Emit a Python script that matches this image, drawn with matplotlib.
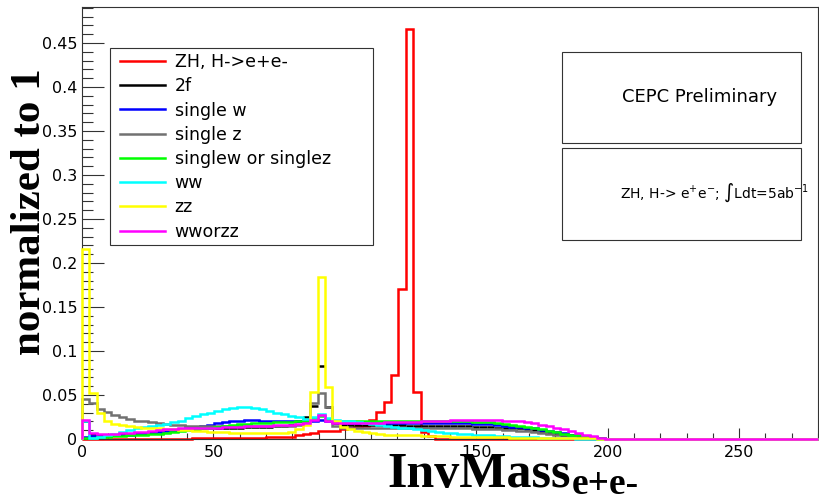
import matplotlib
matplotlib.use('Agg')
import matplotlib.pyplot as plt
import numpy as np
from matplotlib.patches import Rectangle
from matplotlib.ticker import MultipleLocator, FuncFormatter

N_BINS = 100
X_MAX = 280

# bin contents (normalized), bins of 2.8 GeV starting at 0; bins after the list are empty
zh_ee = [0.0002, 0.0002, 0.0002, 0.0002, 0.0002, 0.0002, 0.0002, 0.0002, 0.0002, 0.0002,
         0.0004, 0.0004, 0.0004, 0.0004, 0.0004, 0.0008, 0.0008, 0.0008, 0.0008, 0.0008,
         0.0015, 0.0015, 0.0015, 0.0015, 0.0015, 0.0025, 0.0025, 0.0025, 0.0025, 0.004,
         0.006, 0.0065, 0.009, 0.0095, 0.0095, 0.011, 0.013, 0.014, 0.015, 0.022,
         0.031, 0.042, 0.073, 0.170, 0.466, 0.053, 0.008, 0.003]

two_f = [0.021, 0.006, 0.005, 0.005, 0.005, 0.006, 0.006, 0.007, 0.007, 0.008,
         0.009, 0.010, 0.010, 0.011, 0.011, 0.011, 0.012, 0.012, 0.012, 0.013,
         0.013, 0.013, 0.014, 0.014, 0.014, 0.014, 0.015, 0.015, 0.016, 0.021,
         0.025, 0.038, 0.083, 0.036, 0.018, 0.016, 0.016, 0.016, 0.016, 0.016,
         0.016, 0.016, 0.016, 0.016, 0.015, 0.015, 0.015, 0.015, 0.015, 0.015,
         0.015, 0.015, 0.015, 0.014, 0.014, 0.014, 0.013, 0.013, 0.012, 0.012,
         0.011, 0.010, 0.009, 0.008, 0.0065, 0.005, 0.004, 0.003, 0.002, 0.0015,
         0.001, 0.0005]

single_w = [0.002, 0.003, 0.003, 0.004, 0.004, 0.005, 0.005, 0.006, 0.007, 0.007,
            0.008, 0.009, 0.010, 0.011, 0.012, 0.013, 0.015, 0.016, 0.018, 0.019,
            0.020, 0.021, 0.0215, 0.0215, 0.021, 0.021, 0.021, 0.020, 0.020, 0.020,
            0.020, 0.021, 0.022, 0.021, 0.019, 0.018, 0.018, 0.018, 0.018, 0.018,
            0.018, 0.018, 0.018, 0.018, 0.018, 0.018, 0.018, 0.018, 0.018, 0.018,
            0.018, 0.018, 0.018, 0.017, 0.017, 0.017, 0.016, 0.015, 0.014, 0.014,
            0.013, 0.012, 0.010, 0.009, 0.008, 0.007, 0.005, 0.004, 0.003, 0.002,
            0.001]

single_z = [0.046, 0.041, 0.034, 0.031, 0.027, 0.025, 0.023, 0.021, 0.020, 0.019,
            0.018, 0.017, 0.016, 0.016, 0.015, 0.015, 0.015, 0.015, 0.015, 0.015,
            0.015, 0.015, 0.015, 0.015, 0.015, 0.015, 0.015, 0.015, 0.015, 0.016,
            0.022, 0.041, 0.052, 0.036, 0.015, 0.013, 0.013, 0.012, 0.012, 0.012,
            0.012, 0.012, 0.012, 0.012, 0.012, 0.012, 0.012, 0.012, 0.012, 0.012,
            0.012, 0.012, 0.012, 0.011, 0.011, 0.011, 0.011, 0.010, 0.010, 0.009,
            0.009, 0.008, 0.007, 0.006, 0.005, 0.004, 0.003, 0.002, 0.0015, 0.001,
            0.0005]

single_w_or_z = [0.001, 0.001, 0.002, 0.002, 0.003, 0.003, 0.004, 0.004, 0.005, 0.006,
                 0.006, 0.007, 0.008, 0.009, 0.010, 0.011, 0.012, 0.013, 0.014, 0.015,
                 0.016, 0.017, 0.017, 0.018, 0.018, 0.018, 0.019, 0.019, 0.019, 0.020,
                 0.021, 0.024, 0.026, 0.023, 0.020, 0.020, 0.020, 0.020, 0.020, 0.020,
                 0.020, 0.020, 0.020, 0.020, 0.020, 0.020, 0.020, 0.020, 0.0205, 0.0205,
                 0.0205, 0.020, 0.020, 0.019, 0.019, 0.019, 0.018, 0.017, 0.016, 0.015,
                 0.014, 0.012, 0.011, 0.009, 0.008, 0.006, 0.005, 0.004, 0.003, 0.002,
                 0.001]

ww = [0.020, 0.001, 0.002, 0.004, 0.006, 0.008, 0.010, 0.012, 0.014, 0.015,
      0.016, 0.017, 0.019, 0.021, 0.024, 0.026, 0.028, 0.030, 0.032, 0.034,
      0.035, 0.036, 0.036, 0.035, 0.034, 0.032, 0.030, 0.028, 0.026, 0.025,
      0.023, 0.025, 0.028, 0.024, 0.022, 0.021, 0.020, 0.019, 0.018, 0.017,
      0.016, 0.015, 0.014, 0.013, 0.012, 0.011, 0.010, 0.009, 0.008, 0.007,
      0.0065, 0.006, 0.0055, 0.005, 0.0045, 0.004, 0.0035, 0.003, 0.0028, 0.0025,
      0.002, 0.0018, 0.0015, 0.0012, 0.001, 0.0008, 0.0006, 0.0005, 0.0004, 0.0003,
      0.0002]

zz = [0.216, 0.052, 0.030, 0.020, 0.017, 0.016, 0.015, 0.014, 0.013, 0.013,
      0.012, 0.011, 0.011, 0.010, 0.010, 0.009, 0.009, 0.008, 0.008, 0.008,
      0.007, 0.007, 0.007, 0.007, 0.007, 0.007, 0.007, 0.007, 0.008, 0.011,
      0.016, 0.053, 0.184, 0.059, 0.020, 0.014, 0.011, 0.009, 0.008, 0.007,
      0.006, 0.005, 0.005, 0.004, 0.004, 0.004, 0.003, 0.003, 0.003, 0.003,
      0.0025, 0.0025, 0.0025, 0.002, 0.002, 0.002, 0.002, 0.0018, 0.0016, 0.0015,
      0.0015, 0.0014, 0.0013, 0.0012, 0.0011, 0.001, 0.001, 0.0009, 0.0008, 0.0007,
      0.0005]

ww_or_zz = [0.022, 0.007, 0.006, 0.006, 0.006, 0.007, 0.007, 0.008, 0.008, 0.009,
            0.010, 0.011, 0.011, 0.012, 0.012, 0.012, 0.013, 0.013, 0.013, 0.014,
            0.014, 0.014, 0.015, 0.015, 0.015, 0.015, 0.016, 0.016, 0.016, 0.017,
            0.018, 0.022, 0.027, 0.021, 0.018, 0.018, 0.018, 0.018, 0.018, 0.018,
            0.018, 0.019, 0.019, 0.019, 0.019, 0.019, 0.020, 0.020, 0.021, 0.021,
            0.022, 0.022, 0.022, 0.022, 0.022, 0.022, 0.022, 0.021, 0.021, 0.020,
            0.019, 0.018, 0.016, 0.015, 0.013, 0.011, 0.009, 0.007, 0.005, 0.003,
            0.0015, 0.0005]

labels = ['ZH, H->e+e-', '2f', 'single w', 'single z', 'singlew or singlez', 'ww', 'zz', 'wworzz']
colors = ['#ff0000', '#000000', '#0000ff', '#717171', '#00ff00', '#00ffff', '#ffff00', '#ff00ff']


def _full(values):
    return np.pad(np.array(values, dtype=float), (0, N_BINS - len(values)))


plt.rcParams['font.family'] = ['DejaVu Sans']

edges = np.linspace(0, X_MAX, N_BINS + 1)
centers = 0.5 * (edges[:-1] + edges[1:])

fig = plt.figure(figsize=(8.19, 5.0), dpi=100)
ax = fig.add_axes([82 / 819, 61 / 500, 736 / 819, 432 / 500])

series = [zh_ee, two_f, single_w, single_z, single_w_or_z, ww, zz, ww_or_zz]
handles = []
for i, (vals, lab, col) in enumerate(zip(series, labels, colors)):
    h = _full(vals)
    if lab == '2f':
        ax.errorbar(centers, h, xerr=(edges[1] - edges[0]) / 2, fmt='none',
                    ecolor=col, elinewidth=1.8, zorder=2 + i)
    else:
        ax.stairs(h, edges, color=col, lw=1.8, zorder=2 + i, clip_on=False)
    handles.append(plt.Line2D([], [], color=col, lw=1.8))

ax.set_xlim(0, X_MAX)
ax.set_ylim(0, 0.491)

ax.xaxis.set_major_locator(MultipleLocator(50))
ax.xaxis.set_minor_locator(MultipleLocator(10))
ax.yaxis.set_major_locator(MultipleLocator(0.05))
ax.yaxis.set_minor_locator(MultipleLocator(0.01))
ax.yaxis.set_major_formatter(FuncFormatter(lambda v, p: '%g' % round(v, 3)))

ax.tick_params(axis='x', which='major', direction='in', length=8, width=0.8, pad=4.5, labelsize=11.5)
ax.tick_params(axis='x', which='minor', direction='in', length=4, width=0.8)
ax.tick_params(axis='y', which='major', direction='in', length=16, width=0.8, pad=3.5, labelsize=11.5)
ax.tick_params(axis='y', which='minor', direction='in', length=8, width=0.8)
for sp in ax.spines.values():
    sp.set_linewidth(0.8)
    sp.set_color('#333333')
ax.tick_params(colors='#333333', labelcolor='black', which='both')


def ax_x(px):
    return (px - 82) / 736


def ax_y(py):
    return (439 - py) / 432


# legend box
ax.add_patch(Rectangle((ax_x(110), ax_y(245)), ax_x(373) - ax_x(110), ax_y(48) - ax_y(245),
                       transform=ax.transAxes, facecolor='white', edgecolor='#333333',
                       lw=0.8, zorder=20))
leg = ax.legend(handles, labels, loc='upper left', bbox_to_anchor=(ax_x(120), ax_y(53)),
                frameon=False, fontsize=12.5, handlelength=2.6, handletextpad=0.55,
                labelspacing=0.36, borderpad=0, borderaxespad=0)
leg.set_zorder(21)

# info boxes
ax.add_patch(Rectangle((ax_x(562), ax_y(143)), ax_x(801) - ax_x(562), ax_y(52) - ax_y(143),
                       transform=ax.transAxes, facecolor='white', edgecolor='#333333',
                       lw=0.8, zorder=20))
ax.add_patch(Rectangle((ax_x(562), ax_y(240)), ax_x(801) - ax_x(562), ax_y(148) - ax_y(240),
                       transform=ax.transAxes, facecolor='white', edgecolor='#333333',
                       lw=0.8, zorder=20))
ax.text(ax_x(700), ax_y(97), 'CEPC Preliminary', transform=ax.transAxes, ha='center',
        va='center', fontsize=13, zorder=22)
ax.text(ax_x(620), ax_y(193), r'ZH, H-> e$^{+}$e$^{-}$; $\int$Ldt=5ab$^{-1}$',
        transform=ax.transAxes, ha='left', va='center', fontsize=10, zorder=22)

# axis titles
fig.text(30 / 819, 1 - 212 / 500, 'normalized to 1', rotation=90, ha='center', va='center',
         family='Liberation Serif', weight='bold', size=31)
t_main = fig.text(0, 1 - 487 / 500, 'InvMass', ha='left', va='baseline',
                  family='Liberation Serif', weight='bold', size=36)
t_sub = fig.text(0, 1 - 494 / 500, 'e+e-', ha='left', va='baseline',
                 family='Liberation Serif', weight='bold', size=27)
renderer = fig.canvas.get_renderer()
w_main = t_main.get_window_extent(renderer).width
w_sub = t_sub.get_window_extent(renderer).width
x0 = 513 - (w_main + w_sub) / 2
t_main.set_x(x0 / 819)
t_sub.set_x((x0 + w_main + 1) / 819)

fig.savefig('out.png', dpi=100)
